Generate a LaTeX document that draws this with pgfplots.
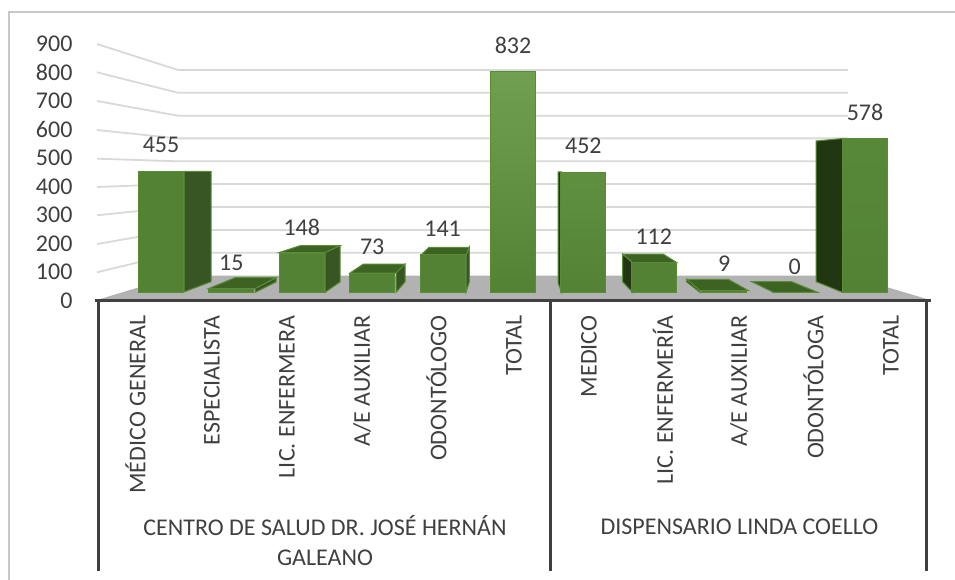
\documentclass[border=0pt]{standalone}
\usepackage{pgfplots}
\pgfplotsset{compat=1.18}
\usepackage{fontspec}
\setmainfont{Carlito}
\newcommand{\fsz}{\fontsize{24}{30}\selectfont}
\definecolor{txt}{HTML}{404040}
\definecolor{front}{HTML}{548235}
\definecolor{edge}{HTML}{5A8C38}
\definecolor{side}{HTML}{375623}
\definecolor{lside}{HTML}{213711}
\definecolor{topf}{HTML}{3D6322}
\definecolor{gridc}{HTML}{D9D9D9}
\definecolor{floorc}{HTML}{B2B2B2}
\definecolor{axc}{HTML}{404040}
\definecolor{framec}{HTML}{C8C8C8}
\definecolor{topA}{HTML}{70A04F}
\definecolor{topB}{HTML}{5F9040}
\definecolor{topC}{HTML}{578838}
\pgfplotsset{base/.style={width=955pt,height=580pt,scale only axis,at={(0,0)},anchor=south west}}
\begin{document}
\begin{tikzpicture}
% ---------- decoration, in picture pixels
\begin{axis}[base,hide axis,xmin=0,xmax=955,ymin=0,ymax=580,y dir=reverse,clip=true]
\addplot[fill=white,draw=none] coordinates {(0,0)(955,0)(955,580)(0,580)} --cycle;
\addplot[framec,line width=2pt] coordinates {(9,580)(9,12.5)(955,12.5)};
% floor
\addplot[fill=floorc,draw=none] coordinates {(97,300)(178,275.5)(848,275.5)(930,300)} --cycle;
% gridlines
\addplot[gridc,line width=1.8pt] coordinates {(97,44)(178,70)(848,70)};
\addplot[gridc,line width=1.8pt] coordinates {(97,72.3)(178,92.8)(848,92.8)};
\addplot[gridc,line width=1.8pt] coordinates {(97,101)(178,115.7)(848,115.7)};
\addplot[gridc,line width=1.8pt] coordinates {(97,130)(178,138.4)(848,138.4)};
\addplot[gridc,line width=1.8pt] coordinates {(97,158.7)(178,161.3)(848,161.3)};
\addplot[gridc,line width=1.8pt] coordinates {(97,187)(178,184)(848,184)};
\addplot[gridc,line width=1.8pt] coordinates {(97,215.3)(178,207)(848,207)};
\addplot[gridc,line width=1.8pt] coordinates {(97,244)(178,230)(848,230)};
\addplot[gridc,line width=1.8pt] coordinates {(97,272.3)(178,252.7)(848,252.7)};
% side and top faces
\addplot[fill=side,draw=edge,line width=1pt] coordinates {(184,171.5)(211,171.5)(211,281.7)(184,292)} --cycle;
\addplot[fill=side,draw=edge,line width=1pt] coordinates {(255,288.5)(276,277.7)(276,282)(255,292.5)} --cycle;
\addplot[fill=topf,draw=edge,line width=1pt] coordinates {(208.7,288.5)(235,277.7)(276,277.7)(255,288.5)} --cycle;
\addplot[fill=side,draw=edge,line width=1pt] coordinates {(325,252.5)(340,245.7)(340,282)(325,292.5)} --cycle;
\addplot[fill=topf,draw=edge,line width=1pt] coordinates {(279.3,252.5)(300,245.7)(340,245.7)(325,252.5)} --cycle;
\addplot[fill=side,draw=edge,line width=1pt] coordinates {(396,273)(405,264)(405,282)(396,292.5)} --cycle;
\addplot[fill=topf,draw=edge,line width=1pt] coordinates {(350,273)(363.5,264)(405,264)(396,273)} --cycle;
\addplot[fill=side,draw=edge,line width=1pt] coordinates {(466,255)(469.3,247.3)(469.3,282)(466,292.5)} --cycle;
\addplot[fill=topf,draw=edge,line width=1pt] coordinates {(421,255)(429,247.3)(469.3,247.3)(466,255)} --cycle;
\addplot[fill=lside,draw=edge,line width=1pt] coordinates {(558,172)(561.7,172)(561.7,292.5)(558,283)} --cycle;
\addplot[fill=lside,draw=edge,line width=1pt] coordinates {(622.7,254)(632.7,262.7)(632.7,292.5)(622.7,282)} --cycle;
\addplot[fill=topf,draw=edge,line width=1pt] coordinates {(622.7,254)(663,254)(677,262.7)(632.7,262.7)} --cycle;
\addplot[fill=lside,draw=edge,line width=1pt] coordinates {(686.7,279.3)(700,290.5)(700,292.5)(686.7,282)} --cycle;
\addplot[fill=topf,draw=edge,line width=1pt] coordinates {(686.7,279.3)(728.3,279.3)(748.3,290.5)(700,290.5)} --cycle;
\addplot[fill=topf,draw=edge,line width=1pt] coordinates {(751.7,281.7)(791.7,281.7)(817.7,292.3)(773.3,292.3)} --cycle;
\addplot[fill=lside,draw=edge,line width=1pt] coordinates {(816,141)(842.7,138.5)(842.7,292.5)(816,281.7)} --cycle;
% category frame
\addplot[axc,line width=3pt] coordinates {(95,300.7)(931,300.7)};
\addplot[axc,line width=3pt] coordinates {(98.3,300.7)(98.3,571)};
\addplot[axc,line width=3pt] coordinates {(550.7,300.7)(550.7,571)};
\addplot[axc,line width=3pt] coordinates {(926.7,300.7)(926.7,571)};
% group names
\node[font=\fsz,text=txt,align=center,anchor=center] at (axis cs:325,541) {CENTRO DE SALUD DR. JOSÉ HERNÁN\\GALEANO};
\node[font=\fsz,text=txt,anchor=center] at (axis cs:739.5,527) {DISPENSARIO LINDA COELLO};
\end{axis}
% ---------- bar fronts, with true values
\begin{axis}[base,hide axis,xmin=-2.2869,xmax=11.2784,ymin=-1080,ymax=1098.8,
  ybar,bar width=45pt,bar shift=0pt,clip=false,
  nodes near coords,
  nodes near coords style={anchor=center,yshift=26pt,font=\fsz,text=txt,
     /pgf/number format/assume math mode=true,/pgf/number format/.cd,fixed}]
\addplot[fill=front,draw=edge,line width=1pt] coordinates {(0,455)(1,15)(2,148)(3,73)(4,141)(7,112)(8,9)(9,0)};
\addplot[top color=topA,bottom color=front,draw=edge,line width=1pt] coordinates {(5,832)};
\addplot[top color=topB,bottom color=front,draw=edge,line width=1pt] coordinates {(6,452)};
\addplot[top color=topC,bottom color=front,draw=edge,line width=1pt] coordinates {(10,578)};
\end{axis}
% ---------- value scale and category names
\begin{axis}[base,xmin=0,xmax=955,ymin=-979.2,ymax=1054.3,
  axis x line*=bottom,axis y line*=left,
  axis line style={draw=none},tick style={draw=none},
  ytick={0,100,...,900},
  xtick={135.5,212,287,362,436.5,514,589,663,739,813.5,891},
  xticklabels={MÉDICO GENERAL,ESPECIALISTA,LIC. ENFERMERA,A/E AUXILIAR,ODONTÓLOGO,TOTAL,MEDICO,LIC. ENFERMERÍA,A/E AUXILIAR,ODONTÓLOGA,TOTAL},
  x tick label style={font=\fsz,text=txt,rotate=90,anchor=east,xshift=268pt},
  y tick label style={font=\fsz,text=txt,anchor=east,xshift=76pt},
  /pgf/number format/assume math mode=true]
\addplot[draw=none] coordinates {(0,0)(955,900)};
\end{axis}
\end{tikzpicture}
\end{document}
